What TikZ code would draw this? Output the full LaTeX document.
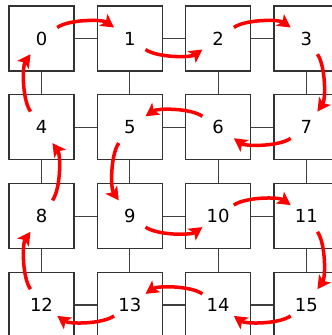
\documentclass[tikz,border=0pt]{standalone}
\usepackage{fontspec}
\setmainfont{DejaVu Sans}
\usetikzlibrary{arrows.meta}
\begin{document}
\begin{tikzpicture}[x=1pt,y=-1pt,
  cell/.style={draw=black!80, line width=1.2pt, fill=white, minimum size=65pt, inner sep=0pt, font=\fontsize{18}{20}\selectfont},
  hub/.style={circle, minimum size=38pt, inner sep=0pt},
  link/.style={draw=black!75, line width=1.2pt},
  flow/.style={draw=red, line width=3.5pt, -{Stealth[length=13pt,width=14pt,inset=3pt]}, looseness=0.65}]
\useasboundingbox (0,0) rectangle (332,335);
\foreach \i in {0,...,15} {
  \pgfmathsetmacro\cx{41.5+88.3*mod(\i,4)}
  \pgfmathsetmacro\cy{38.5+88.8*int(\i/4)}
  \node[cell] (n\i) at (\cx,\cy) {\i};
  \node[hub] (c\i) at (\cx,\cy) {};
}
\foreach \a/\b in {0/1,1/2,2/3,4/5,5/6,6/7,8/9,9/10,10/11,12/13,13/14,14/15,
                   0/4,1/5,2/6,3/7,4/8,5/9,6/10,7/11,8/12,9/13,10/14,11/15} {
  \draw[link] (n\a) -- (n\b);
}
\draw[flow] (c0) to[bend left=35] (c1);
\draw[flow] (c1) to[bend right=35] (c2);
\draw[flow] (c2) to[bend left=35] (c3);
\draw[flow] (c3) to[bend left=35] (c7);
\draw[flow] (c7) to[bend left=35] (c6);
\draw[flow] (c6) to[bend right=35] (c5);
\draw[flow] (c5) to[bend right=35] (c9);
\draw[flow] (c9) to[bend right=35] (c10);
\draw[flow] (c10) to[bend left=35] (c11);
\draw[flow] (c11) to[bend left=35] (c15);
\draw[flow] (c15) to[bend left=35] (c14);
\draw[flow] (c14) to[bend right=35] (c13);
\draw[flow] (c13) to[bend left=35] (c12);
\draw[flow] (c12) to[bend left=35] (c8);
\draw[flow] (c8) to[bend right=35] (c4);
\draw[flow] (c4) to[bend left=35] (c0);
\end{tikzpicture}
\end{document}
